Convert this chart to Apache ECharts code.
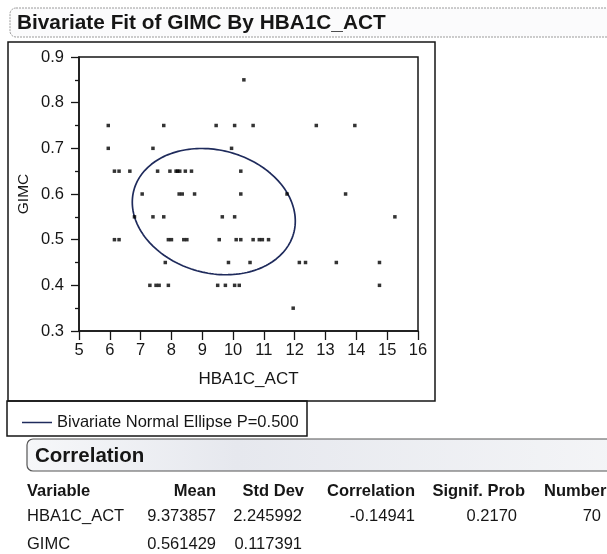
<!DOCTYPE html>
<html>
<head>
<meta charset="utf-8">
<script src="https://cdn.jsdelivr.net/npm/echarts@6/dist/echarts.min.js"></script>
<style>
  html, body { margin: 0; padding: 0; background: #fff; }
  #main { width: 607px; height: 554px; }
</style>
</head>
<body>
<div id="main"></div>
<script>
// points (HBA1C_ACT, GIMC), row by row
var hba1c = [
  10.35,
  5.95, 7.75, 9.45, 10.05, 10.65, 12.7, 13.95,
  5.95, 7.4, 9.95,
  6.15, 6.3, 6.65, 7.55, 7.95, 8.15, 8.2, 8.27, 8.45, 8.65, 10.25,
  7.05, 8.25, 8.35, 8.75, 10.25, 11.75, 13.65,
  6.8, 7.4, 7.75, 9.65, 10.05, 15.25,
  6.15, 6.3, 7.9, 8.0, 8.4, 8.5, 9.55, 10.1, 10.25, 10.65, 10.85, 10.95, 11.15,
  7.8, 9.85, 10.55, 12.15, 12.35, 13.35, 14.75,
  7.3, 7.5, 7.6, 7.9, 9.5, 9.75, 10.05, 10.2, 14.75,
  11.95
];
var gimc = [
  0.85,
  0.75, 0.75, 0.75, 0.75, 0.75, 0.75, 0.75,
  0.70, 0.70, 0.70,
  0.65, 0.65, 0.65, 0.65, 0.65, 0.65, 0.65, 0.65, 0.65, 0.65, 0.65,
  0.60, 0.60, 0.60, 0.60, 0.60, 0.60, 0.60,
  0.55, 0.55, 0.55, 0.55, 0.55, 0.55,
  0.50, 0.50, 0.50, 0.50, 0.50, 0.50, 0.50, 0.50, 0.50, 0.50, 0.50, 0.50, 0.50,
  0.45, 0.45, 0.45, 0.45, 0.45, 0.45, 0.45,
  0.40, 0.40, 0.40, 0.40, 0.40, 0.40, 0.40, 0.40, 0.40,
  0.35
];

// correlation report
var variables = ['HBA1C_ACT', 'GIMC'];
var means = [9.373857, 0.561429];
var stdDevs = [2.245992, 0.117391];
var correlation = -0.14941;
var signifProb = 0.2170;
var count = 70;
var ellipseP = 0.5;

var xTickLabels = ['5', '6', '7', '8', '9', '10', '11', '12', '13', '14', '15', '16'];
var yTickLabels = ['0.3', '0.4', '0.5', '0.6', '0.7', '0.8', '0.9'];

var FONT = '"Liberation Sans", Arial, Helvetica, sans-serif';
var INK = '#161616';
var ELLIPSE = '#1f2b5c';

var points = hba1c.map(function (x, i) { return [x, gimc[i]]; });

// bivariate normal ellipse from the reported means, std devs and correlation
var k = Math.sqrt(-2 * Math.log(1 - ellipseP));
var r = correlation;
var ellipse = [];
for (var i = 0; i <= 180; i++) {
  var t = i / 180 * 2 * Math.PI;
  ellipse.push([
    means[0] + k * stdDevs[0] * Math.cos(t),
    means[1] + k * stdDevs[1] * (r * Math.cos(t) + Math.sqrt(1 - r * r) * Math.sin(t))
  ]);
}

function txt(x, y, s, opts) {
  opts = opts || {};
  return {
    type: 'text', x: x, y: y, silent: true,
    style: {
      text: s, fill: INK,
      font: (opts.bold ? 'bold ' : '') + (opts.size || 16.5) + 'px ' + FONT,
      textAlign: opts.align || 'left', textVerticalAlign: 'middle'
    }
  };
}

var colRight = { mean: 216, sd: 302, corr: 415 };
var tableRows = [491, 516, 544];

var chart = echarts.init(document.getElementById('main'));
chart.setOption({
  backgroundColor: '#fff',
  animation: false,
  textStyle: { fontFamily: FONT },
  grid: { left: 79, right: 189, top: 57, bottom: 223, show: true, borderColor: INK, borderWidth: 1.5 },
  xAxis: {
    type: 'value', min: 5, max: 16, interval: 1,
    name: 'HBA1C_ACT', nameLocation: 'middle', nameGap: 40,
    nameTextStyle: { fontSize: 17, color: INK },
    axisLine: { show: true, lineStyle: { color: INK, width: 1.5 } },
    axisTick: { show: true, length: 9, lineStyle: { color: INK, width: 1.3 } },
    axisLabel: { fontSize: 16.5, color: INK, margin: 11, formatter: function (v) { return xTickLabels[Math.round(v - 5)]; } },
    splitLine: { show: false }
  },
  yAxis: {
    type: 'value', min: 0.3, max: 0.9, interval: 0.1,
    name: 'GIMC', nameLocation: 'middle', nameGap: 47, nameMoveOverlap: false,
    nameTextStyle: { fontSize: 15.5, color: INK },
    axisLine: { show: true, lineStyle: { color: INK, width: 1.5 } },
    axisTick: { show: true, length: 8, lineStyle: { color: INK, width: 1.3 } },
    minorTick: { show: true, splitNumber: 2, length: 4, lineStyle: { color: INK, width: 1.3 } },
    axisLabel: { fontSize: 16.5, color: INK, margin: 15, formatter: function (v) { return yTickLabels[Math.round((v - 0.3) * 10)]; } },
    splitLine: { show: false }
  },
  legend: {
    left: 17, top: 409, itemWidth: 30, itemHeight: 1.5, itemGap: 6, icon: 'rect',
    data: ['Bivariate Normal Ellipse P=0.500'],
    textStyle: { fontSize: 16.5, color: INK, padding: [0, 0, 0, 0] }
  },
  series: [
    {
      name: 'points', type: 'scatter', data: points,
      symbol: 'rect', symbolSize: 3.5,
      itemStyle: { color: '#000' }, z: 3
    },
    {
      name: 'Bivariate Normal Ellipse P=0.500', type: 'line', data: ellipse,
      showSymbol: false, smooth: false,
      lineStyle: { color: ELLIPSE, width: 1.7 },
      itemStyle: { color: ELLIPSE }, z: 2
    }
  ],
  graphic: [
    // report title
    { type: 'rect', silent: true, shape: { x: 10, y: 8, width: 620, height: 29, r: [6, 0, 0, 6] },
      style: { fill: '#fbfbfc', stroke: '#9a9a9a', lineWidth: 1, lineDash: [2, 1] } },
    txt(17, 23, 'Bivariate Fit of GIMC By HBA1C_ACT', { bold: true, size: 20.8 }),
    // plot frame and legend box
    { type: 'rect', silent: true, shape: { x: 8, y: 42, width: 427, height: 359 },
      style: { fill: 'none', stroke: INK, lineWidth: 1.5 } },
    { type: 'rect', silent: true, shape: { x: 7, y: 401, width: 300, height: 35 },
      style: { fill: 'none', stroke: INK, lineWidth: 1.5 } },
    // correlation outline header
    { type: 'rect', silent: true, shape: { x: 27, y: 439, width: 600, height: 32, r: [6, 0, 0, 6] },
      style: { fill: new echarts.graphic.LinearGradient(0, 0, 1, 0, [
        { offset: 0, color: '#f6f7f9' }, { offset: 0.35, color: '#e6e8ee' }, { offset: 1, color: '#f4f5f7' }
      ]), stroke: '#555', lineWidth: 1.2 } },
    txt(35, 456, 'Correlation', { bold: true, size: 20.5 }),
    // table header
    txt(27, tableRows[0], 'Variable', { bold: true }),
    txt(colRight.mean, tableRows[0], 'Mean', { bold: true, align: 'right' }),
    txt(304, tableRows[0], 'Std Dev', { bold: true, align: 'right' }),
    txt(colRight.corr, tableRows[0], 'Correlation', { bold: true, align: 'right' }),
    txt(525, tableRows[0], 'Signif. Prob', { bold: true, align: 'right' }),
    txt(544, tableRows[0], 'Number', { bold: true }),
    // rows
    txt(27, tableRows[1], variables[0]),
    txt(colRight.mean, tableRows[1], means[0].toFixed(6), { align: 'right' }),
    txt(colRight.sd, tableRows[1], stdDevs[0].toFixed(6), { align: 'right' }),
    txt(colRight.corr, tableRows[1], correlation.toFixed(5), { align: 'right' }),
    txt(517, tableRows[1], signifProb.toFixed(4), { align: 'right' }),
    txt(601, tableRows[1], String(count), { align: 'right' }),
    txt(27, tableRows[2], variables[1]),
    txt(colRight.mean, tableRows[2], means[1].toFixed(6), { align: 'right' }),
    txt(colRight.sd, tableRows[2], stdDevs[1].toFixed(6), { align: 'right' })
  ]
});
</script>
</body>
</html>
